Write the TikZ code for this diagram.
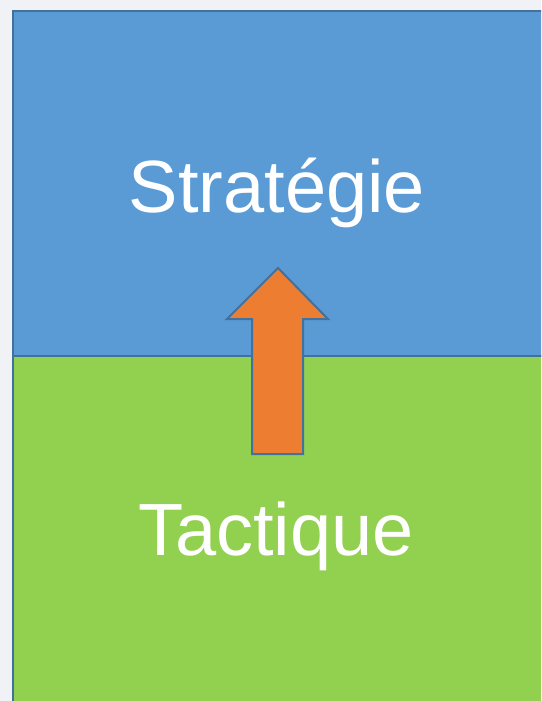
\documentclass[tikz,border=0pt]{standalone}
\usepackage{fontspec}
\setmainfont{Liberation Sans}
\definecolor{bgwhite}{HTML}{F1F2F6}
\definecolor{boxblue}{HTML}{5B9BD5}
\definecolor{boxgreen}{HTML}{92D050}
\definecolor{arroworange}{HTML}{ED7D31}
\definecolor{edgeblue}{HTML}{41719C}

\begin{document}
\begin{tikzpicture}[x=1pt,y=-1pt]
    \useasboundingbox (0,0) rectangle (541,701);
    \clip (0,0) rectangle (541,701);
    % background
    \fill[color=bgwhite] (0,0) rectangle (541,701);

    % strategy level
    \draw[fill=boxblue,draw=edgeblue,line width=2.5pt] (13,11) rectangle (560,356);
    % tactic level
    \draw[fill=boxgreen,draw=edgeblue,line width=2.5pt] (13,356) rectangle (560,720);

    % upward arrow
    \draw[fill=arroworange,draw=edgeblue,line width=2pt,line join=miter]
        (278,268) -- (328,319) -- (303,319) -- (303,454)
        -- (252,454) -- (252,319) -- (227,319) -- cycle;

    % labels
    \node[anchor=base,text=white,font=\fontsize{74}{80}\selectfont] (strat) at (277,212) {Stratégie};
    \node[anchor=base,text=white,font=\fontsize{74}{80}\selectfont] (tact) at (276,555) {Tactique};
\end{tikzpicture}
\end{document}
